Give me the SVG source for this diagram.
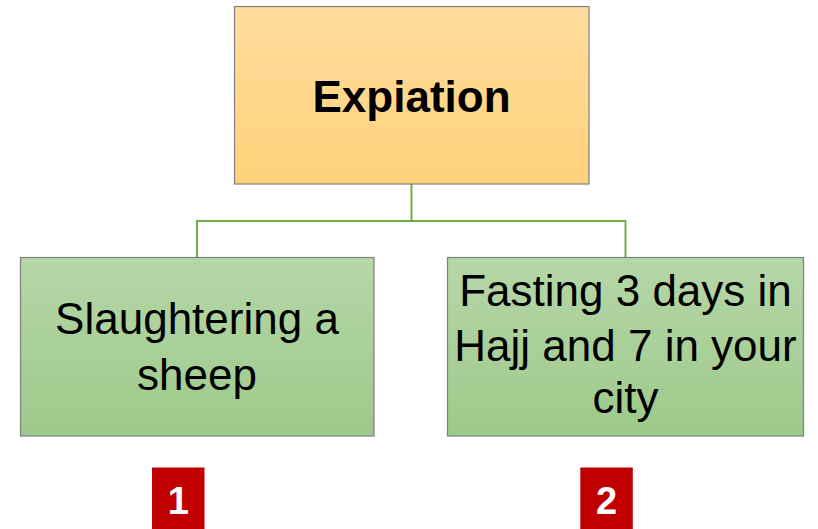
<svg xmlns="http://www.w3.org/2000/svg" width="818" height="529" viewBox="0 0 818 529">
<defs>
<linearGradient id="gOrange" x1="0" y1="0" x2="0" y2="1">
<stop offset="0" stop-color="#FFDC9E"/>
<stop offset="1" stop-color="#FFD27A"/>
</linearGradient>
<linearGradient id="gGreen" x1="0" y1="0" x2="0" y2="1">
<stop offset="0" stop-color="#B6D7A8"/>
<stop offset="1" stop-color="#9DC98A"/>
</linearGradient>
<style>
.box{stroke:#7F7F7F;stroke-width:1.2}
.conn{fill:none;stroke:#70AD47;stroke-width:2}
.t{font-family:"Liberation Sans",Arial,sans-serif;fill:#000;text-anchor:middle}
.badge{fill:#C00000}
.bt{font-family:"Liberation Sans",Arial,sans-serif;font-weight:bold;fill:#fff;text-anchor:middle;font-size:38px}
</style>
</defs>
<g id="connectors">
<path class="conn" d="M411.5 184 V221 M197 221 H625.5 M197 220 V257.5 M625.5 220 V257.5"/>
</g>
<g id="expiation">
<rect class="box" x="234.5" y="6.5" width="354.5" height="177.5" fill="url(#gOrange)"/>
<text class="t" x="411.5" y="112" font-size="44" font-weight="bold">Expiation</text>
</g>
<g id="sheep">
<rect class="box" x="20.5" y="257.5" width="353.5" height="178.5" fill="url(#gGreen)"/>
<text class="t" x="197" y="334" font-size="44">Slaughtering a</text>
<text class="t" x="197" y="390" font-size="44">sheep</text>
</g>
<g id="fasting">
<rect class="box" x="447.5" y="257.5" width="356" height="178.5" fill="url(#gGreen)"/>
<text class="t" x="625.5" y="306" font-size="44">Fasting 3 days in</text>
<text class="t" x="625.5" y="361" font-size="44">Hajj and 7 in your</text>
<text class="t" x="625.5" y="413" font-size="44">city</text>
</g>
<g id="badge1">
<rect class="badge" x="152" y="467.5" width="52.5" height="62"/>
<text class="bt" x="178.2" y="514">1</text>
</g>
<g id="badge2">
<rect class="badge" x="580.3" y="467.5" width="52.5" height="62"/>
<text class="bt" x="606.5" y="514">2</text>
</g>
</svg>
